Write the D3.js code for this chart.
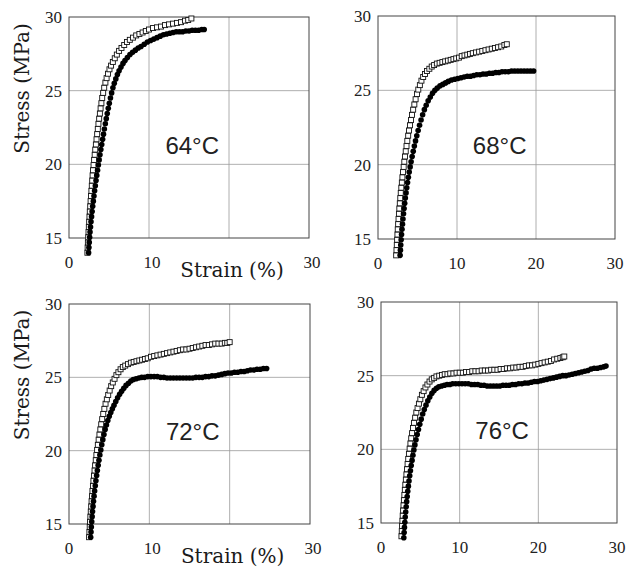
<!DOCTYPE html>
<html lang="en">
<head>
<meta charset="UTF-8">
<title>Stress-strain curves</title>
<script src="https://d3js.org/d3.v7.min.js"></script>
<style>
  body { margin: 0; background: #fff; }
  svg { display: block; }
  .tick { font: 17px "Liberation Serif", serif; fill: #222; }
  .title { font: 20px "DejaVu Serif", serif; fill: #1a1a1a; }
  .temp { font: 24px "Liberation Sans", Arial, sans-serif; fill: #222; }
</style>
</head>
<body>
<script>
// values: [strain %, stress MPa]
const temps = ["64°C", "68°C", "72°C", "76°C"];
const xTicks = [0, 10, 20, 30];
const yTicks = [15, 20, 25, 30];

const open64 = [[2.3,14.0],[2.33,14.35],[2.36,14.7],[2.4,15.05],[2.44,15.4],[2.48,15.75],[2.52,16.1],[2.56,16.45],
  [2.6,16.8],[2.65,17.15],[2.7,17.5],[2.75,17.85],[2.8,18.2],[2.85,18.55],[2.9,18.9],[2.95,19.25],[3.0,19.6],
  [3.07,19.95],[3.14,20.3],[3.21,20.65],[3.28,21.0],[3.36,21.35],[3.44,21.7],[3.52,22.05],[3.6,22.4],
  [3.68,22.75],[3.77,23.1],[3.86,23.45],[3.95,23.8],[4.05,24.15],[4.15,24.5],[4.27,24.85],[4.4,25.2],
  [4.55,25.55],[4.7,25.85],[4.88,26.15],[5.06,26.45],[5.26,26.7],[5.48,26.95],[5.72,27.2],[5.98,27.45],
  [6.26,27.7],[6.56,27.9],[6.9,28.1],[7.25,28.3],[7.6,28.45],[8.0,28.6],[8.4,28.75],[8.8,28.85],[9.2,28.95],
  [9.6,29.05],[10.0,29.15],[10.5,29.25],[11.0,29.3],[11.5,29.35],[12.0,29.45],[12.5,29.5],[13.0,29.55],
  [13.5,29.6],[14.0,29.65],[14.5,29.75],[14.9,29.8],[15.3,29.9]];
const filled64 = [[2.45,14.0],[2.49,14.35],[2.53,14.7],[2.58,15.05],[2.63,15.4],[2.69,15.75],[2.75,16.1],
  [2.82,16.45],[2.89,16.8],[2.96,17.15],[3.04,17.5],[3.12,17.85],[3.2,18.2],[3.29,18.55],[3.38,18.9],
  [3.47,19.25],[3.57,19.6],[3.67,19.95],[3.77,20.3],[3.87,20.65],[3.98,21.0],[4.09,21.35],[4.2,21.7],
  [4.31,22.05],[4.42,22.4],[4.54,22.75],[4.66,23.1],[4.78,23.45],[4.91,23.8],[5.04,24.15],[5.18,24.5],
  [5.33,24.85],[5.49,25.2],[5.66,25.5],[5.85,25.8],[6.05,26.1],[6.26,26.35],[6.5,26.6],[6.75,26.85],
  [7.0,27.05],[7.3,27.25],[7.62,27.45],[7.95,27.6],[8.3,27.75],[8.65,27.9],[9.0,28.0],[9.4,28.15],
  [9.8,28.3],[10.2,28.4],[10.6,28.5],[11.0,28.6],[11.4,28.7],[11.8,28.8],[12.2,28.85],[12.6,28.9],
  [13.0,28.95],[13.4,29.0],[13.8,29.0],[14.2,29.0],[14.6,29.05],[15.0,29.05],[15.4,29.1],[15.8,29.1],
  [16.2,29.1],[16.6,29.15],[16.9,29.15]];

const open68 = [[2.3,13.9],[2.34,14.25],[2.38,14.6],[2.42,14.95],[2.46,15.3],[2.5,15.65],[2.55,16.0],
  [2.6,16.35],[2.65,16.7],[2.7,17.05],[2.76,17.4],[2.82,17.75],[2.88,18.1],[2.95,18.45],[3.02,18.8],
  [3.09,19.15],[3.17,19.5],[3.25,19.85],[3.33,20.2],[3.42,20.55],[3.51,20.9],[3.61,21.25],[3.71,21.6],
  [3.82,21.95],[3.93,22.3],[4.05,22.65],[4.18,23.0],[4.31,23.35],[4.45,23.7],[4.6,24.05],[4.76,24.4],
  [4.93,24.75],[5.1,25.05],[5.3,25.35],[5.5,25.65],[5.72,25.9],[5.95,26.1],[6.2,26.3],[6.5,26.45],
  [6.8,26.6],[7.1,26.7],[7.45,26.8],[7.8,26.85],[8.15,26.9],[8.5,26.95],[8.85,27.0],[9.2,27.05],
  [9.55,27.1],[9.9,27.15],[10.25,27.2],[10.6,27.3],[10.95,27.35],[11.3,27.4],[11.65,27.45],[12.0,27.5],
  [12.4,27.55],[12.8,27.6],[13.2,27.65],[13.6,27.7],[14.0,27.75],[14.4,27.8],[14.8,27.85],[15.2,27.9],
  [15.6,27.95],[16.0,28.05],[16.3,28.1]];
const filled68 = [[2.8,13.9],[2.84,14.25],[2.88,14.6],[2.93,14.95],[2.98,15.3],[3.04,15.65],[3.1,16.0],
  [3.16,16.35],[3.23,16.7],[3.3,17.05],[3.38,17.4],[3.46,17.75],[3.55,18.1],[3.64,18.45],[3.74,18.8],
  [3.84,19.15],[3.95,19.5],[4.07,19.85],[4.19,20.2],[4.32,20.55],[4.46,20.9],[4.6,21.25],[4.75,21.6],
  [4.91,21.95],[5.08,22.3],[5.26,22.65],[5.45,23.0],[5.65,23.35],[5.87,23.7],[6.1,24.0],[6.35,24.3],
  [6.62,24.55],[6.9,24.8],[7.2,25.0],[7.5,25.15],[7.85,25.3],[8.2,25.4],[8.55,25.5],[8.9,25.6],[9.3,25.7],
  [9.7,25.75],[10.1,25.8],[10.5,25.85],[10.9,25.9],[11.3,25.95],[11.7,25.95],[12.1,26.0],[12.5,26.05],
  [12.9,26.05],[13.3,26.1],[13.7,26.1],[14.1,26.15],[14.5,26.15],[14.9,26.2],[15.3,26.2],[15.7,26.25],
  [16.1,26.25],[16.5,26.25],[16.9,26.3],[17.3,26.3],[17.7,26.3],[18.1,26.3],[18.5,26.3],[18.9,26.3],
  [19.3,26.3],[19.7,26.3]];

const open72 = [[2.5,14.1],[2.54,14.45],[2.58,14.8],[2.62,15.15],[2.66,15.5],[2.71,15.85],[2.76,16.2],
  [2.81,16.55],[2.86,16.9],[2.92,17.25],[2.98,17.6],[3.04,17.95],[3.11,18.3],[3.18,18.65],[3.25,19.0],
  [3.33,19.35],[3.41,19.7],[3.5,20.05],[3.59,20.4],[3.69,20.75],[3.79,21.1],[3.9,21.45],[4.01,21.8],
  [4.13,22.15],[4.26,22.5],[4.4,22.85],[4.55,23.2],[4.71,23.5],[4.88,23.8],[5.06,24.1],[5.25,24.4],
  [5.45,24.65],[5.67,24.9],[5.9,25.15],[6.15,25.35],[6.42,25.55],[6.7,25.7],[7.0,25.8],[7.35,25.9],
  [7.7,26.0],[8.05,26.05],[8.4,26.1],[8.75,26.15],[9.1,26.2],[9.45,26.25],[9.8,26.3],[10.2,26.4],
  [10.6,26.45],[11.0,26.5],[11.4,26.55],[11.8,26.6],[12.2,26.65],[12.6,26.7],[13.0,26.75],[13.4,26.8],
  [13.8,26.85],[14.2,26.9],[14.6,26.9],[15.0,26.95],[15.4,27.0],[15.8,27.05],[16.2,27.1],[16.6,27.15],
  [17.0,27.2],[17.4,27.2],[17.8,27.25],[18.2,27.3],[18.6,27.3],[19.0,27.3],[19.4,27.35],[19.7,27.35],
  [20.0,27.4]];
const filled72 = [[2.7,14.1],[2.74,14.45],[2.78,14.8],[2.83,15.15],[2.88,15.5],[2.93,15.85],[2.99,16.2],
  [3.05,16.55],[3.12,16.9],[3.19,17.25],[3.27,17.6],[3.35,17.95],[3.44,18.3],[3.53,18.65],[3.63,19.0],
  [3.73,19.35],[3.84,19.7],[3.96,20.05],[4.08,20.4],[4.21,20.75],[4.35,21.1],[4.5,21.45],[4.66,21.75],
  [4.83,22.05],[5.01,22.35],[5.2,22.6],[5.4,22.85],[5.6,23.1],[5.82,23.35],[6.05,23.6],[6.3,23.85],
  [6.55,24.05],[6.82,24.25],[7.1,24.45],[7.4,24.6],[7.7,24.75],[8.0,24.85],[8.35,24.9],[8.7,24.95],
  [9.05,25.0],[9.4,25.0],[9.8,25.05],[10.2,25.05],[10.6,25.05],[11.0,25.05],[11.4,25.0],[11.8,25.0],
  [12.2,24.95],[12.6,24.95],[13.0,24.95],[13.4,24.95],[13.8,24.95],[14.2,24.95],[14.6,24.95],[15.0,24.95],
  [15.4,24.95],[15.8,25.0],[16.2,25.0],[16.6,25.0],[17.0,25.05],[17.4,25.05],[17.8,25.1],[18.2,25.1],
  [18.6,25.15],[19.0,25.2],[19.4,25.25],[19.8,25.3],[20.2,25.3],[20.6,25.35],[21.0,25.35],[21.4,25.4],
  [21.8,25.4],[22.2,25.45],[22.6,25.5],[23.0,25.5],[23.4,25.55],[23.8,25.55],[24.2,25.6],[24.6,25.6]];

const open76 = [[2.6,14.1],[2.64,14.45],[2.68,14.8],[2.72,15.15],[2.76,15.5],[2.81,15.85],[2.86,16.2],
  [2.91,16.55],[2.97,16.9],[3.03,17.25],[3.09,17.6],[3.16,17.95],[3.23,18.3],[3.3,18.65],[3.38,19.0],
  [3.46,19.35],[3.55,19.7],[3.64,20.05],[3.74,20.4],[3.84,20.75],[3.95,21.1],[4.07,21.45],[4.2,21.8],
  [4.34,22.15],[4.49,22.5],[4.65,22.8],[4.82,23.1],[5.0,23.4],[5.2,23.7],[5.42,23.95],[5.65,24.2],
  [5.9,24.4],[6.17,24.6],[6.45,24.75],[6.75,24.85],[7.05,24.95],[7.4,25.0],[7.75,25.05],[8.1,25.1],
  [8.45,25.1],[8.8,25.15],[9.2,25.15],[9.6,25.2],[10.0,25.2],[10.4,25.2],[10.8,25.25],[11.2,25.25],
  [11.6,25.3],[12.0,25.3],[12.4,25.3],[12.8,25.35],[13.2,25.35],[13.6,25.35],[14.0,25.4],[14.4,25.4],
  [14.8,25.4],[15.2,25.45],[15.6,25.45],[16.0,25.5],[16.4,25.5],[16.8,25.55],[17.2,25.55],[17.6,25.6],
  [18.0,25.6],[18.4,25.65],[18.8,25.7],[19.2,25.7],[19.6,25.75],[20.0,25.8],[20.4,25.85],[20.8,25.9],
  [21.2,25.95],[21.6,26.0],[22.0,26.1],[22.4,26.15],[22.8,26.2],[23.1,26.25],[23.3,26.3]];
const filled76 = [[2.9,14.0],[2.94,14.35],[2.98,14.7],[3.03,15.05],[3.08,15.4],[3.14,15.75],[3.2,16.1],
  [3.26,16.45],[3.33,16.8],[3.4,17.15],[3.48,17.5],[3.56,17.85],[3.65,18.2],[3.74,18.55],[3.84,18.9],
  [3.95,19.25],[4.06,19.6],[4.18,19.95],[4.31,20.3],[4.45,20.65],[4.6,21.0],[4.76,21.35],[4.93,21.7],
  [5.11,22.05],[5.3,22.4],[5.5,22.7],[5.72,23.0],[5.95,23.3],[6.2,23.55],[6.47,23.8],[6.75,24.0],
  [7.05,24.15],[7.35,24.25],[7.7,24.3],[8.05,24.35],[8.4,24.4],[8.75,24.4],[9.1,24.45],[9.5,24.45],
  [9.9,24.45],[10.3,24.45],[10.7,24.45],[11.1,24.45],[11.5,24.4],[11.9,24.4],[12.3,24.4],[12.7,24.35],
  [13.1,24.35],[13.5,24.3],[13.9,24.3],[14.3,24.3],[14.7,24.3],[15.1,24.3],[15.5,24.35],[15.9,24.35],
  [16.3,24.35],[16.7,24.4],[17.1,24.4],[17.5,24.45],[17.9,24.45],[18.3,24.5],[18.7,24.5],[19.1,24.55],
  [19.5,24.6],[19.9,24.6],[20.3,24.65],[20.7,24.7],[21.1,24.75],[21.5,24.8],[21.9,24.85],[22.3,24.9],
  [22.7,24.95],[23.1,25.0],[23.5,25.0],[23.9,25.05],[24.3,25.1],[24.7,25.15],[25.1,25.2],[25.5,25.25],
  [25.9,25.3],[26.3,25.35],[26.7,25.45],[27.1,25.5],[27.5,25.5],[27.9,25.55],[28.3,25.6],[28.6,25.65]];

// where the temperature label sits, in data units
const labelAt = [15.4, 20.7];

const width = 629, height = 567;
const svg = d3.select("body").append("svg")
    .attr("width", width)
    .attr("height", height);

const panels = [
  { name: temps[0], open: open64, filled: filled64, x0: 69,  x1: 309, y0: 17,  y1: 238, left: true },
  { name: temps[1], open: open68, filled: filled68, x0: 378, x1: 615, y0: 16,  y1: 239, left: false },
  { name: temps[2], open: open72, filled: filled72, x0: 69,  x1: 310, y0: 304, y1: 524, left: true },
  { name: temps[3], open: open76, filled: filled76, x0: 381, x1: 617, y0: 302, y1: 523, left: false }
];

panels.forEach(p => {
  const x = d3.scaleLinear().domain([0, 30]).range([p.x0, p.x1]);
  const y = d3.scaleLinear().domain([15, 30]).range([p.y1, p.y0]);
  const g = svg.append("g");

  // grid
  g.selectAll("line.vx").data(xTicks.slice(1, -1)).join("line")
      .attr("x1", d => x(d)).attr("x2", d => x(d))
      .attr("y1", p.y0).attr("y2", p.y1)
      .attr("stroke", "#9a9a9a").attr("stroke-width", 0.8);
  g.selectAll("line.hy").data(yTicks.slice(1, -1)).join("line")
      .attr("x1", p.x0).attr("x2", p.x1)
      .attr("y1", d => y(d)).attr("y2", d => y(d))
      .attr("stroke", "#9a9a9a").attr("stroke-width", 0.8);

  // frame
  g.append("rect")
      .attr("x", p.x0).attr("y", p.y0)
      .attr("width", p.x1 - p.x0).attr("height", p.y1 - p.y0)
      .attr("fill", "none").attr("stroke", "#444").attr("stroke-width", 1);

  // tick labels
  g.selectAll("text.yt").data(yTicks).join("text")
      .attr("class", "tick")
      .attr("x", p.x0 - 7).attr("y", d => y(d) + 6)
      .attr("text-anchor", "end")
      .text(d => d);
  g.selectAll("text.xt").data(p.left ? xTicks.filter(d => d !== 20) : xTicks).join("text")
      .attr("class", "tick")
      .attr("x", d => x(d) + (p.left && d > 0 ? 3 : 0)).attr("y", p.y1 + 30)
      .attr("text-anchor", "middle")
      .text(d => d);

  // axis titles on the left column
  if (p.left) {
    g.append("text").attr("class", "title")
        .attr("x", x(20) + 3).attr("y", p.y1 + 39)
        .attr("text-anchor", "middle")
        .text("Strain (%)");
    g.append("text").attr("class", "title")
        .attr("transform", `translate(29,${(p.y0 + p.y1) / 2 - 39}) rotate(-90)`)
        .attr("text-anchor", "middle")
        .text("Stress (MPa)");
  }

  // temperature
  g.append("text").attr("class", "temp")
      .attr("x", x(labelAt[0])).attr("y", y(labelAt[1]))
      .attr("text-anchor", "middle")
      .text(p.name);

  // open squares
  g.selectAll("rect.sq").data(p.open).join("rect")
      .attr("x", d => x(d[0]) - 2.5).attr("y", d => y(d[1]) - 2.5)
      .attr("width", 5).attr("height", 5)
      .attr("fill", "#fff").attr("stroke", "#111").attr("stroke-width", 0.9);

  // filled circles
  g.selectAll("circle.pt").data(p.filled).join("circle")
      .attr("cx", d => x(d[0])).attr("cy", d => y(d[1]))
      .attr("r", 2.8)
      .attr("fill", "#000");
});
</script>
</body>
</html>
